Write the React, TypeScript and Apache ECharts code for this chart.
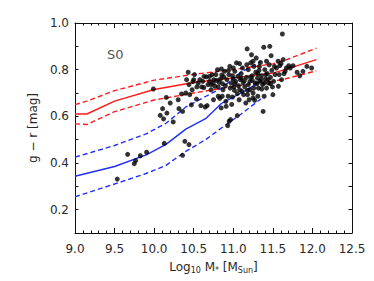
import React, { useEffect, useRef } from "react";
import * as echarts from "echarts";

const xTicks = [9.0, 9.5, 10.0, 10.5, 11.0, 11.5, 12.0, 12.5];
const yTicks = [0.2, 0.4, 0.6, 0.8, 1.0];

const galaxyX = [
  9.534, 9.665, 9.749, 9.766, 9.825, 9.905, 9.99, 10.077, 10.107, 10.119, 10.128, 10.153, 10.161, 10.203, 10.241,
  10.304, 10.313, 10.346, 10.359, 10.359, 10.388, 10.4, 10.41, 10.43, 10.44, 10.44, 10.45, 10.47, 10.48, 10.49,
  10.5, 10.535, 10.556, 10.578, 10.59, 10.615, 10.628, 10.645, 10.66, 10.67, 10.68, 10.7, 10.72, 10.733, 10.746,
  10.754, 10.767, 10.78, 10.788, 10.8, 10.81, 10.83, 10.838, 10.847, 10.855, 10.864, 10.87, 10.89, 10.906, 10.91,
  10.92, 10.93, 10.935, 10.944, 10.948, 10.956, 10.965, 10.973, 10.98, 10.998, 11.007, 11.015, 11.02, 11.03, 11.04,
  11.05, 11.057, 11.065, 11.074, 11.08, 11.09, 11.1, 11.116, 11.125, 11.13, 11.145, 11.158, 11.167, 11.175, 11.18,
  11.19, 11.2, 11.21, 11.22, 11.23, 11.24, 11.25, 11.26, 11.27, 11.276, 11.284, 11.29, 11.305, 11.318, 11.326,
  11.335, 11.343, 11.356, 11.37, 11.377, 11.385, 11.398, 11.406, 11.42, 11.43, 11.444, 11.453, 11.461, 11.47, 11.478,
  11.486, 11.495, 11.5, 11.51, 11.528, 11.545, 11.566, 11.58, 11.587, 11.604, 11.62, 11.63, 11.64, 11.655, 11.67,
  11.7, 11.72, 11.755, 11.806, 11.84, 11.88, 11.93, 11.99,
  10.6, 10.7, 10.72, 10.82, 10.88, 10.9, 10.96, 10.99, 11.02, 11.1, 11.14, 11.19, 11.22, 11.24, 11.26, 11.3, 11.31,
  11.35, 11.36, 11.39, 11.41, 11.44, 11.47, 11.21, 11.11, 11.18, 11.25, 11.31, 11.39, 10.99, 11.05, 10.86, 10.81,
  10.75, 10.54, 10.51, 10.63, 11.08, 11.17, 11.0, 10.94, 10.85, 11.25, 11.33, 11.42, 11.52, 11.61, 11.57,
];
const galaxyY = [
  0.331, 0.437, 0.397, 0.41, 0.431, 0.446, 0.717, 0.604, 0.633, 0.589, 0.484, 0.681, 0.614, 0.657, 0.576,
  0.671, 0.633, 0.696, 0.621, 0.433, 0.493, 0.7, 0.757, 0.789, 0.479, 0.736, 0.693, 0.649, 0.714, 0.749,
  0.757, 0.674, 0.743, 0.757, 0.646, 0.75, 0.723, 0.64, 0.769, 0.646, 0.736, 0.771, 0.714, 0.779, 0.743,
  0.757, 0.729, 0.779, 0.754, 0.8, 0.726, 0.677, 0.76, 0.636, 0.777, 0.74, 0.714, 0.793, 0.664, 0.643,
  0.757, 0.56, 0.686, 0.779, 0.579, 0.814, 0.586, 0.743, 0.651, 0.76, 0.726, 0.711, 0.793, 0.75, 0.829,
  0.603, 0.771, 0.731, 0.671, 0.714, 0.757, 0.783, 0.807, 0.743, 0.693, 0.726, 0.657, 0.767, 0.889, 0.711,
  0.8, 0.671, 0.75, 0.829, 0.864, 0.774, 0.7, 0.814, 0.669, 0.743, 0.789, 0.85, 0.764, 0.721, 0.797,
  0.75, 0.831, 0.774, 0.736, 0.621, 0.896, 0.8, 0.76, 0.721, 0.783, 0.743, 0.821, 0.9, 0.767, 0.86,
  0.797, 0.726, 0.693, 0.75, 0.779, 0.807, 0.836, 0.779, 0.817, 0.826, 0.953, 0.843, 0.783, 0.793, 0.807,
  0.817, 0.807, 0.817, 0.789, 0.774, 0.793, 0.814, 0.807,
  0.726, 0.75, 0.736, 0.746, 0.769, 0.731, 0.721, 0.774, 0.74, 0.764, 0.753, 0.736, 0.769, 0.754, 0.721, 0.74, 0.783,
  0.757, 0.717, 0.743, 0.779, 0.757, 0.74, 0.714, 0.707, 0.693, 0.679, 0.686, 0.686, 0.683, 0.697, 0.686, 0.686,
  0.671, 0.726, 0.779, 0.771, 0.826, 0.821, 0.807, 0.797, 0.803, 0.836, 0.814, 0.836, 0.814, 0.757, 0.729,
];

const redX = [9.0, 9.15, 9.5, 10.0, 10.5, 11.0, 11.5, 11.65, 12.05];
const redMid = [0.61, 0.61, 0.665, 0.715, 0.745, 0.765, 0.785, 0.8, 0.843];
const redHigh = [0.65, 0.665, 0.71, 0.755, 0.78, 0.8, 0.825, 0.84, 0.892];
const redLow = [0.568, 0.565, 0.62, 0.67, 0.7, 0.728, 0.75, 0.76, 0.795];

const blueX = [9.0, 9.5, 9.9, 10.15, 10.4, 10.65, 10.85, 11.1, 11.35];
const blueMid = [0.343, 0.385, 0.435, 0.48, 0.545, 0.59, 0.655, 0.7, 0.75];
const blueHigh = [0.425, 0.475, 0.525, 0.57, 0.64, 0.685, 0.72, 0.79, 0.835];
const blueLow = [0.255, 0.31, 0.355, 0.39, 0.45, 0.5, 0.55, 0.61, 0.675];

const pairs = (xs: number[], ys: number[]) => xs.map((x, i) => [x, ys[i]]);

const FONT = "DejaVu Sans";
const TXT = "#2a2a2a";

export default function App() {
  const ref = useRef<HTMLDivElement>(null);
  useEffect(() => {
    if (!ref.current) return;
    const chart = echarts.init(ref.current, undefined, { renderer: "svg" });
    const axisLine = { show: true, lineStyle: { color: "#111", width: 1 } };
    const tick = { show: true, inside: true, length: 5, lineStyle: { color: "#111", width: 1 } };
    const xBase = { type: "value" as const, min: 9.0, max: 12.5, interval: 0.5, splitLine: { show: false }, axisLine };
    const yBase = { type: "value" as const, min: 0.1, max: 1.0, splitLine: { show: false }, axisLine };
    const lineSeries = (xs: number[], ys: number[], color: string, dashed: boolean) => ({
      type: "line" as const,
      data: pairs(xs, ys),
      symbol: "none",
      lineStyle: { color, width: 1.4, type: dashed ? [5, 3] : "solid" },
      z: 3,
    });
    chart.setOption({
      animation: false,
      grid: { left: 75, right: 22, top: 23, bottom: 48 },
      xAxis: [
        {
          ...xBase,
          position: "bottom",
          axisTick: tick,
          minorTick: { show: true, splitNumber: 5, length: 2.5, lineStyle: { color: "#111" } },
          axisLabel: {
            formatter: (v: number) => (xTicks.includes(v) ? v.toFixed(1) : ""),
            color: TXT, fontFamily: FONT, fontSize: 12, margin: 10,
          },
          name: "Log{s|10} M{s|*} [M{s|Sun}]",
          nameLocation: "middle",
          nameGap: 27,
          nameTextStyle: {
            color: TXT, fontFamily: FONT, fontSize: 12,
            rich: { s: { fontSize: 8, fontFamily: FONT, color: TXT, padding: [6, 0, 0, 0] } },
          },
        },
        {
          ...xBase,
          position: "top",
          axisTick: tick,
          minorTick: { show: true, splitNumber: 5, length: 2.5, lineStyle: { color: "#111" } },
          axisLabel: { show: false },
        },
      ],
      yAxis: [
        {
          ...yBase,
          position: "left",
          interval: 0.1,
          axisTick: { ...tick, length: 3.5 },
          axisLabel: {
            formatter: (v: number) => {
              const r = Math.round(v * 10) / 10;
              return yTicks.some((t) => Math.abs(t - r) < 1e-6) && Math.abs(v - r) < 1e-6 ? r.toFixed(1) : "";
            },
            color: TXT, fontFamily: FONT, fontSize: 12, margin: 6,
          },
          name: "g \u2212 r [mag]",
          nameLocation: "middle",
          nameGap: 31,
          nameRotate: 90,
          nameTextStyle: { color: TXT, fontFamily: FONT, fontSize: 12 },
        },
        {
          ...yBase,
          position: "right",
          interval: 0.1,
          axisTick: { ...tick, length: 3.5 },
          axisLabel: { show: false },
        },
      ],
      series: [
        lineSeries(redX, redMid, "#ff1a1a", false),
        lineSeries(redX, redHigh, "#ff1a1a", true),
        lineSeries(redX, redLow, "#ff1a1a", true),
        lineSeries(blueX, blueMid, "#1f2dff", false),
        lineSeries(blueX, blueHigh, "#1f2dff", true),
        lineSeries(blueX, blueLow, "#1f2dff", true),
        {
          type: "scatter",
          data: pairs(galaxyX, galaxyY),
          symbol: "circle",
          symbolSize: 5,
          itemStyle: { color: "#000" },
          z: 4,
        },
      ],
      graphic: [
        {
          type: "text",
          left: 107,
          top: 48,
          style: { text: "S0", fill: "#555", fontFamily: FONT, fontSize: 13 },
        },
      ],
    });
    return () => chart.dispose();
  }, []);
  return <div ref={ref} style={{ width: 374, height: 281, position: "absolute", left: 0, top: 0 }} />;
}
